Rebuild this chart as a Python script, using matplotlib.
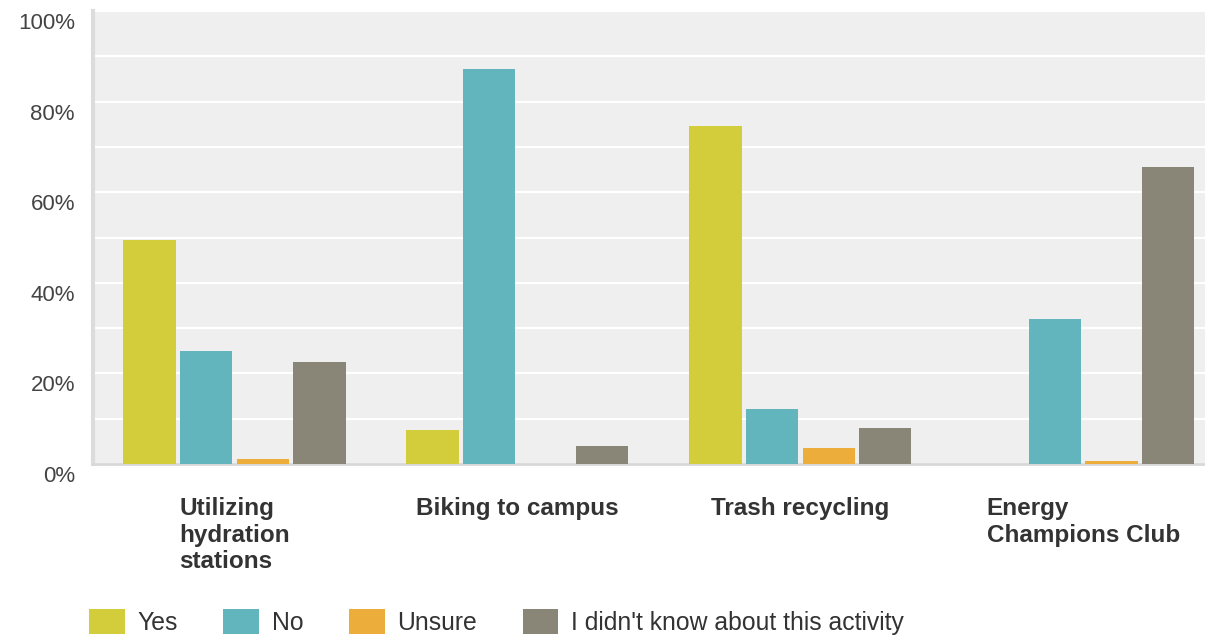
import matplotlib
matplotlib.use("Agg")
import matplotlib.pyplot as plt
import matplotlib.transforms as mtransforms
import numpy as np

plt.rcParams['font.family'] = ['Liberation Sans', 'DejaVu Sans']

# data (percent)
activities = ['Utilizing\nhydration\nstations', 'Biking to campus',
              'Trash recycling', 'Energy\nChampions Club']
answers = ['Yes', 'No', 'Unsure', "I didn't know about this activity"]
yes_vals = [49.5, 7.5, 74.6, 0.0]
no_vals = [25.0, 87.2, 12.1, 32.0]
unsure_vals = [1.1, 0.0, 3.5, 0.6]
didnt_know_vals = [22.5, 4.0, 8.0, 65.6]
colors = ['#d3cd3c', '#62b5bc', '#ecad3b', '#898677']

series = [yes_vals, no_vals, unsure_vals, didnt_know_vals]

fig = plt.figure(figsize=(12.05, 6.38), dpi=100)
ax = fig.add_axes([93 / 1205, 174 / 638, 1 - 93 / 1205, 453 / 638])
ax.set_facecolor('#efefef')

x = np.arange(len(activities))
offsets = [-0.3, -0.1, 0.1, 0.3]
bars = []
for vals, off, col, lab in zip(series, offsets, colors, answers):
    b = ax.bar(x + off, vals, width=0.185, color=col, label=lab,
               linewidth=0, zorder=3)
    bars.append(b)

ax.set_xlim(-0.5, 3.43)
ax.set_ylim(0, 100)
ax.set_yticks(np.arange(0, 101, 20))
ax.set_yticklabels([f'{v}%' for v in range(0, 101, 20)])
ax.set_yticks(np.arange(0, 101, 10), minor=True)
ax.grid(True, which='both', axis='y', color='white', linewidth=1.6, zorder=1)
ax.set_xticks([])
ax.tick_params(axis='y', which='both', length=0, pad=13,
               labelsize=16, labelcolor='#444444')
# the percent labels sit a bit below their grid lines
shift = mtransforms.ScaledTranslation(0, -10 / 100, fig.dpi_scale_trans)
for lbl in ax.get_yticklabels():
    lbl.set_transform(lbl.get_transform() + shift)

for side in ['top', 'right']:
    ax.spines[side].set_visible(False)
ax.spines['left'].set_color('#dcdcdc')
ax.spines['left'].set_linewidth(3)
ax.spines['bottom'].set_color('#d8d8d8')
ax.spines['bottom'].set_linewidth(2)

trans = mtransforms.blended_transform_factory(ax.transData, ax.transAxes)
for xi, name in zip(x, activities):
    ax.text(xi, -33 / 453, name, transform=trans, ha='center', va='top',
            multialignment='left', fontsize=17.5, fontweight='bold',
            color='#333333', linespacing=1.2)

fig.legend(handles=bars, labels=answers, loc='upper left',
           bbox_to_anchor=(89 / 1205, 1 - 609 / 638), ncol=4, frameon=False,
           fontsize=17.8, handlelength=1.45, handleheight=1.2,
           handletextpad=0.5, columnspacing=1.85, borderpad=0,
           borderaxespad=0, labelcolor='#333333')

fig.savefig('out.png', dpi=100)
